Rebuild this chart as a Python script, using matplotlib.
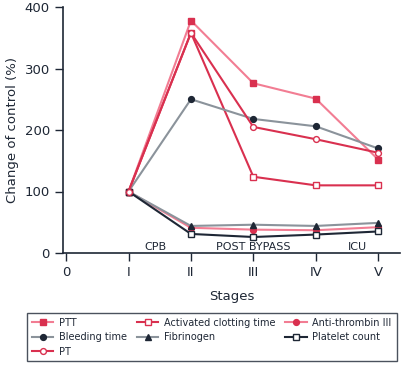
import matplotlib
matplotlib.use('Agg')
import matplotlib.pyplot as plt

# Stages and values (% of control)
stages = [1, 2, 3, 4, 5]
stage_labels = ['0', 'I', 'II', 'III', 'IV', 'V']

ptt = [100, 378, 276, 251, 152]
act = [100, 358, 124, 110, 110]
at3 = [100, 41, 38, 37, 42]
bleeding = [100, 250, 218, 206, 170]
fibrinogen = [100, 44, 46, 44, 49]
platelets = [100, 31, 26, 30, 35]
pt = [100, 358, 205, 185, 163]

pink = '#f27d93'
red = '#d9304f'
dark = '#1e2735'
gray = '#8b939b'

fig = plt.figure(figsize=(4.05, 3.69), dpi=100)
ax = fig.add_axes([63/405, 1-253/369, 337/405, 246/369])

kw = dict(lw=1.5, ms=4.2, markeredgewidth=1)
h_ptt, = ax.plot(stages, ptt, color=pink, marker='s', mfc=red, mec=red, label='PTT', **kw)
h_act, = ax.plot(stages, act, color=red, marker='s', mfc='white', mec=red, label='Activated clotting time', **kw)
h_at3, = ax.plot(stages, at3, color=pink, marker='o', mfc=red, mec=red, label='Anti-thrombin III', **kw)
h_bt, = ax.plot(stages, bleeding, color=gray, marker='o', mfc=dark, mec=dark, label='Bleeding time', **kw)
h_fib, = ax.plot(stages, fibrinogen, color=gray, marker='^', mfc=dark, mec=dark, label='Fibrinogen', **kw)
h_plt, = ax.plot(stages, platelets, color=dark, marker='s', mfc='white', mec=dark, label='Platelet count', **kw)
h_pt, = ax.plot(stages, pt, color=red, marker='o', mfc='white', mec=red, label='PT', **kw)

ax.set_xlim(-0.05, 5.35)
ax.set_ylim(0, 400)
ax.set_xticks(range(6))
ax.set_xticklabels(stage_labels)
ax.set_yticks([0, 100, 200, 300, 400])
ax.spines['top'].set_visible(False)
ax.spines['right'].set_visible(False)
for s in ['left', 'bottom']:
    ax.spines[s].set_color(dark)
    ax.spines[s].set_linewidth(1.2)
ax.tick_params(colors=dark, labelsize=9.5, length=6, width=1)
ax.set_ylabel('Change of control (%)', fontsize=9.5, color=dark)
ax.set_xlabel('Stages', fontsize=9.5, color=dark, labelpad=8)

ax.text(1.43, 5, 'CPB', fontsize=8, color=dark, ha='center')
ax.text(3.0, 5, 'POST BYPASS', fontsize=8, color=dark, ha='center')
ax.text(4.67, 5, 'ICU', fontsize=8, color=dark, ha='center')

handles = [h_ptt, h_bt, h_pt, h_act, h_fib, h_at3, h_plt]
fig.legend(handles=handles, labels=[h.get_label() for h in handles], ncol=3,
           loc='upper left', bbox_to_anchor=(27/405, 1-313/369),
           fontsize=7, frameon=True, fancybox=False, edgecolor=dark,
           handlelength=2.2, handletextpad=0.6, labelspacing=0.45,
           borderaxespad=0, borderpad=0.5, columnspacing=1.0, labelcolor=dark)

plt.savefig('out.png', dpi=100)
